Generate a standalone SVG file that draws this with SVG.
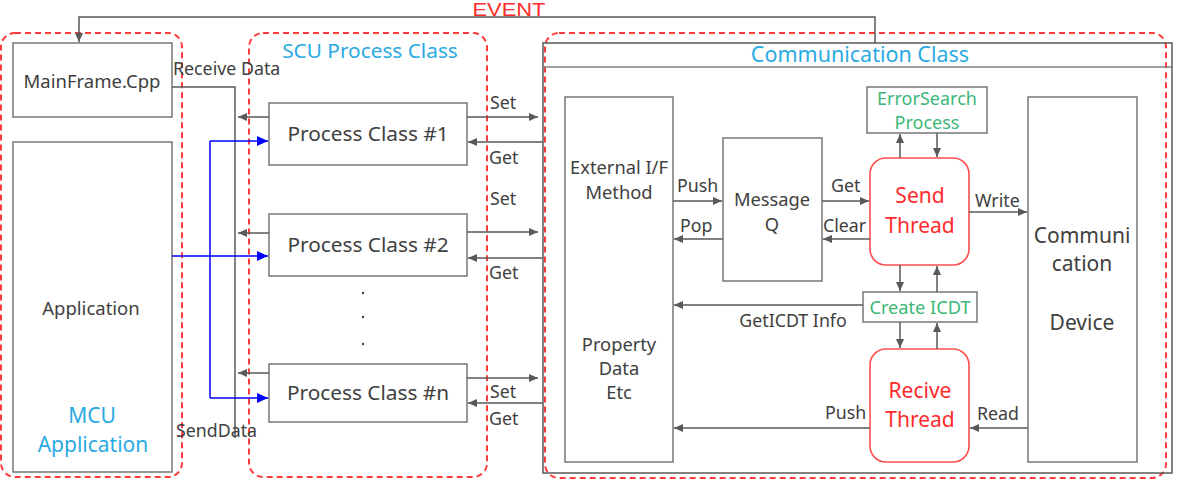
<svg xmlns="http://www.w3.org/2000/svg" width="1178" height="482" viewBox="0 0 1178 482">
<style>
text{font-family:"Noto Sans","Open Sans","DejaVu Sans",sans-serif;fill:#404040;text-anchor:middle;dominant-baseline:central}
.box{fill:#fff;stroke:#7f7f7f;stroke-width:1.6}
.grp{fill:none;stroke:#ff3b3b;stroke-width:2;stroke-dasharray:6 4}
.thr{fill:#fff;stroke:#ff4d4d;stroke-width:1.6}
.ln{fill:none;stroke:#595959;stroke-width:1.5}
.bl{fill:none;stroke:#0000ff;stroke-width:1.5}
.t{font-size:18.3px}
.lbl{font-size:17.8px;text-anchor:start}
.blue{fill:#2aaae2}
.green{fill:#3cb878}
.red{fill:#ff2b2b}
</style>
<defs>
<marker id="ah" markerUnits="userSpaceOnUse" markerWidth="10" markerHeight="10" refX="9" refY="4" orient="auto"><path d="M0,0 L9,4 L0,8 z" fill="#595959"/></marker>
<marker id="ahb" markerUnits="userSpaceOnUse" markerWidth="12" markerHeight="12" refX="11" refY="5" orient="auto"><path d="M0,0 L11,5 L0,10 z" fill="#0000ff"/></marker>
</defs>
<rect width="1178" height="482" fill="#fff"/>
<g id="groups">
<rect class="grp" x="1" y="33" width="181" height="444" rx="14"/>
<rect class="grp" x="249" y="33" width="238" height="444" rx="14"/>
<rect class="grp" x="545" y="33" width="621" height="445" rx="14"/>
<text x="370" y="50" style="font-size:20.8px" class="blue">SCU Process Class</text>
<text x="509" y="16" style="font-family:'Liberation Sans',Arial,sans-serif;font-size:17.5px;dominant-baseline:alphabetic" class="red" textLength="73" lengthAdjust="spacingAndGlyphs">EVENT</text>
</g>
<g id="mainframe"><rect class="box" x="13" y="43" width="159" height="74"/><text x="92" y="80" style="font-size:18.5px">MainFrame.Cpp</text></g>
<g id="application"><rect class="box" x="13" y="142" width="159" height="330"/><text x="91" y="307" style="font-size:18.5px">Application</text><text x="92" y="415" style="font-size:21px" class="blue">MCU</text><text x="93" y="444" style="font-size:21px" class="blue">Application</text></g>
<g id="process1"><rect class="box" x="269" y="103" width="198" height="62"/><text x="368" y="133" style="font-size:20.8px">Process Class #1</text></g>
<g id="process2"><rect class="box" x="269" y="214" width="198" height="62"/><text x="368" y="244" style="font-size:20.8px">Process Class #2</text></g>
<g id="processn"><rect class="box" x="269" y="364" width="198" height="58"/><text x="368" y="392" style="font-size:20.8px">Process Class #n</text></g>
<g id="dots"><circle cx="363" cy="293" r="1.2" fill="#404040"/><circle cx="363" cy="317" r="1.2" fill="#404040"/><circle cx="363" cy="344" r="1.2" fill="#404040"/></g>
<g id="commclass"><rect x="543" y="43" width="629" height="430" fill="none" stroke="#595959" stroke-width="1.5"/><line x1="543" y1="67" x2="1172" y2="67" stroke="#7f7f7f" stroke-width="1.5"/><text x="860" y="53" style="font-size:21.5px" class="blue">Communication Class</text></g>
<g id="external"><rect class="box" x="565" y="97" width="108" height="365"/><text class="t" x="619" y="166">External I/F</text><text class="t" x="619" y="191">Method</text><text class="t" x="619" y="343">Property</text><text class="t" x="619" y="367">Data</text><text class="t" x="619" y="391">Etc</text></g>
<g id="messageq"><rect class="box" x="723" y="138" width="99" height="143"/><text class="t" x="772" y="198">Message</text><text class="t" x="772" y="223">Q</text></g>
<g id="errorsearch"><rect class="box" x="867" y="87" width="120" height="46"/><text x="927" y="98" style="font-size:18px" class="green">ErrorSearch</text><text x="927" y="122" style="font-size:18px" class="green">Process</text></g>
<g id="sendthread"><rect class="thr" x="870" y="158" width="99" height="107" rx="16"/><text x="920" y="195" style="font-size:21px" class="red">Send</text><text x="920" y="225" style="font-size:21px" class="red">Thread</text></g>
<g id="createicdt"><rect class="box" x="863" y="292" width="114" height="30"/><text x="920" y="307" style="font-size:18.2px" class="green">Create ICDT</text></g>
<g id="recivethread"><rect class="thr" x="870" y="349" width="99" height="113" rx="16"/><text x="920" y="390" style="font-size:21px" class="red">Recive</text><text x="920" y="419" style="font-size:21px" class="red">Thread</text></g>
<g id="commdevice"><rect class="box" x="1028" y="97" width="109" height="365"/><text x="1082" y="235" style="font-size:21px">Communi</text><text x="1082" y="263" style="font-size:21px">cation</text><text x="1082" y="322" style="font-size:21px">Device</text></g>
<g id="connectors">
<polyline class="ln" points="875,43 875,17 79,17 79,42" marker-end="url(#ah)"/>
<polyline class="ln" points="172,87 235,87 235,438"/>
<line class="ln" x1="269" y1="117" x2="238" y2="117" marker-end="url(#ah)"/>
<line class="ln" x1="269" y1="233" x2="238" y2="233" marker-end="url(#ah)"/>
<line class="ln" x1="269" y1="373" x2="238" y2="373" marker-end="url(#ah)"/>
<line class="bl" x1="210" y1="141" x2="210" y2="398"/>
<line class="bl" x1="210" y1="141" x2="268" y2="141" marker-end="url(#ahb)"/>
<line class="bl" x1="172" y1="256" x2="268" y2="256" marker-end="url(#ahb)"/>
<line class="bl" x1="210" y1="398" x2="268" y2="398" marker-end="url(#ahb)"/>
<line class="ln" x1="467" y1="117" x2="538" y2="117" marker-end="url(#ah)"/>
<line class="ln" x1="543" y1="142" x2="468" y2="142" marker-end="url(#ah)"/>
<line class="ln" x1="467" y1="232" x2="538" y2="232" marker-end="url(#ah)"/>
<line class="ln" x1="543" y1="258" x2="468" y2="258" marker-end="url(#ah)"/>
<line class="ln" x1="467" y1="378" x2="538" y2="378" marker-end="url(#ah)"/>
<line class="ln" x1="543" y1="403" x2="468" y2="403" marker-end="url(#ah)"/>
<line class="ln" x1="673" y1="201" x2="722" y2="201" marker-end="url(#ah)"/>
<line class="ln" x1="723" y1="239" x2="674" y2="239" marker-end="url(#ah)"/>
<line class="ln" x1="822" y1="201" x2="869" y2="201" marker-end="url(#ah)"/>
<line class="ln" x1="870" y1="239" x2="823" y2="239" marker-end="url(#ah)"/>
<line class="ln" x1="863" y1="305" x2="674" y2="305" marker-end="url(#ah)"/>
<line class="ln" x1="870" y1="428" x2="674" y2="428" marker-end="url(#ah)"/>
<line class="ln" x1="900" y1="158" x2="900" y2="134" marker-end="url(#ah)"/>
<line class="ln" x1="937" y1="133" x2="937" y2="157" marker-end="url(#ah)"/>
<line class="ln" x1="900" y1="265" x2="900" y2="291" marker-end="url(#ah)"/>
<line class="ln" x1="937" y1="292" x2="937" y2="266" marker-end="url(#ah)"/>
<line class="ln" x1="900" y1="322" x2="900" y2="348" marker-end="url(#ah)"/>
<line class="ln" x1="937" y1="349" x2="937" y2="323" marker-end="url(#ah)"/>
<line class="ln" x1="969" y1="212" x2="1027" y2="212" marker-end="url(#ah)"/>
<line class="ln" x1="1028" y1="428" x2="970" y2="428" marker-end="url(#ah)"/>
<text class="lbl" x="173" y="68">Receive Data</text>
<text class="lbl" x="176" y="430">SendData</text>
<text class="lbl" x="490" y="102">Set</text>
<text class="lbl" x="489" y="157">Get</text>
<text class="lbl" x="490" y="198">Set</text>
<text class="lbl" x="489" y="272">Get</text>
<text class="lbl" x="490" y="391">Set</text>
<text class="lbl" x="489" y="418">Get</text>
<text class="lbl" x="677" y="185">Push</text>
<text class="lbl" x="680" y="225">Pop</text>
<text class="lbl" x="831" y="185">Get</text>
<text class="lbl" x="823" y="225">Clear</text>
<text class="lbl" x="975" y="200">Write</text>
<text class="lbl" x="977" y="413">Read</text>
<text class="lbl" x="825" y="412">Push</text>
<text x="793" y="320" style="font-size:17.8px">GetICDT Info</text>
</g>
</svg>
